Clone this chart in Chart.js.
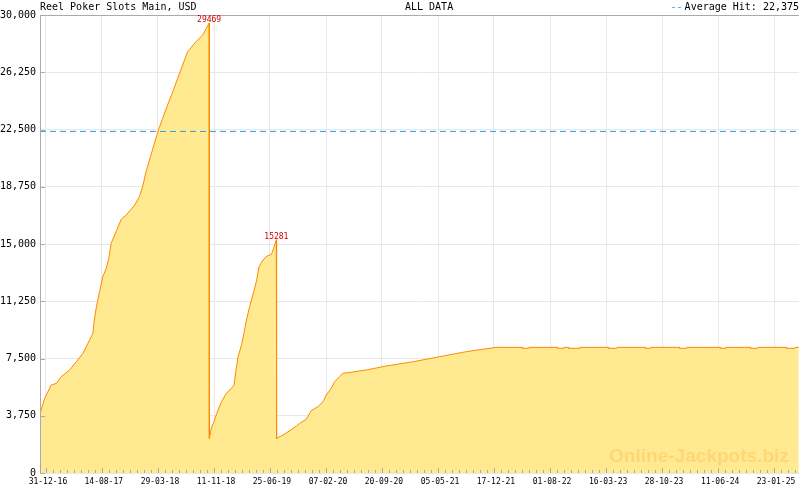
<!DOCTYPE html>
<html><head><meta charset="utf-8">
<script src="https://cdn.jsdelivr.net/npm/chart.js@4/dist/chart.umd.min.js"></script>
<style>html,body{margin:0;padding:0;background:#fff;}canvas{display:block}</style>
</head><body>
<canvas id="c" width="800" height="490"></canvas>
<script>
const chartTitle = 'Reel Poker Slots Main, USD';
const rangeLabel = 'ALL DATA';
const averageLabel = 'Average Hit: 22,375';
const averageHit = 22375;
const watermark = 'Online-Jackpots.biz';

const dates = [
'2016-12-07','2016-12-26','2017-01-21','2017-02-11','2017-03-03','2017-04-06','2017-05-03','2017-05-30',
'2017-06-19','2017-07-09','2017-07-13','2017-07-22','2017-08-05','2017-08-18','2017-09-01','2017-09-11',
'2017-09-21','2017-10-11','2017-11-01','2017-11-21','2017-12-25','2018-01-13','2018-01-26','2018-02-09',
'2018-02-27','2018-03-15','2018-03-31','2018-04-17','2018-05-07','2018-05-28','2018-06-17','2018-07-07',
'2018-07-27','2018-08-30','2018-09-26','2018-10-22',
'2018-10-23','2018-10-31','2018-11-13','2018-11-27','2018-12-11','2018-12-31','2019-01-20','2019-01-31',
'2019-02-07','2019-02-16','2019-03-02','2019-03-12','2019-03-22','2019-04-04','2019-04-17','2019-05-01',
'2019-05-12','2019-05-28','2019-06-13','2019-07-01','2019-07-10','2019-07-21',
'2019-07-22','2019-08-17','2019-09-13','2019-10-10','2019-10-23','2019-11-19','2019-12-09','2020-01-05',
'2020-01-26','2020-02-08','2020-02-28','2020-03-13','2020-04-02','2020-04-15','2020-05-19','2020-07-19',
'2020-10-08','2021-01-24','2021-05-12','2021-08-28','2021-12-27',
'2022-04-11','2022-04-12','2022-05-06','2022-05-07','2022-08-31','2022-09-01','2022-09-25','2022-09-26',
'2022-10-14','2022-10-15','2022-11-29','2022-11-30','2023-03-25','2023-03-26','2023-04-28','2023-04-29',
'2023-08-21','2023-08-22','2023-09-12','2023-09-13','2024-01-06','2024-01-07','2024-02-05','2024-02-06',
'2024-06-19','2024-06-20','2024-07-11','2024-07-12','2024-10-19','2024-10-20','2024-11-18','2024-11-19',
'2025-03-14','2025-03-15','2025-04-17','2025-04-18','2025-05-03'
];
const values = [
3900,4890,5760,5870,6310,6750,7290,7840,
8500,9150,9800,10790,11880,12860,13410,14060,
15050,15810,16640,16900,17550,18100,18750,19740,
20720,21600,22470,23230,24100,24970,25850,26720,
27600,28250,28690,29469,
2270,2930,3470,4130,4670,5220,5550,5760,
6640,7620,8380,9150,10020,10890,11660,12530,
13510,13950,14210,14320,14720,15281,
2270,2490,2770,3080,3250,3520,4080,4340,
4670,5110,5550,5980,6310,6530,6600,6750,
7010,7290,7620,7950,8230,
8230,8170,8170,8230,8230,8170,8170,8230,
8230,8170,8170,8230,8230,8170,8170,8230,
8230,8170,8170,8230,8230,8170,8170,8230,
8230,8170,8170,8230,8230,8170,8170,8230,
8230,8170,8170,8230,8230
];
const tickLabels = ['31-12-16','14-08-17','29-03-18','11-11-18','25-06-19','07-02-20','20-09-20',
'05-05-21','17-12-21','01-08-22','16-03-23','28-10-23','11-06-24','23-01-25'];
const xStart = '2016-12-07';
const xEnd = '2025-05-04';
const yMax = 30000;
const yStep = 3750;

const dayOf = s => { const p = s.split('-').map(Number); return Date.UTC(p[0], p[1]-1, p[2]) / 864e5; };
const tickDay = s => { const p = s.split('-').map(Number); return Date.UTC(2000+p[2], p[1]-1, p[0]) / 864e5; };
const tickDays = tickLabels.map(tickDay);
const points = dates.map((d,i)=>({x: dayOf(d), y: values[i]}));
const xMin = dayOf(xStart), xMax = dayOf(xEnd);

const MONO = '"DejaVu Sans Mono", monospace';

const deco = {
  id: 'deco',
  afterDatasetsDraw(chart) {
    const {ctx, chartArea: a, scales: {x, y}} = chart;
    ctx.save();
    // watermark
    ctx.font = 'bold 18px "Liberation Sans", Arial, sans-serif';
    const w = ctx.measureText(watermark).width;
    const fs = 18 * 180 / w;
    ctx.font = 'bold ' + fs.toFixed(2) + 'px "Liberation Sans", Arial, sans-serif';
    ctx.fillStyle = 'rgba(255,170,50,0.30)';
    ctx.textAlign = 'left'; ctx.textBaseline = 'alphabetic';
    ctx.fillText(watermark, 609, 462);

    ctx.strokeStyle = '#aaaaaa'; ctx.lineWidth = 1;
    ctx.beginPath();
    ctx.moveTo(a.left, a.top + 0.5); ctx.lineTo(a.right, a.top + 0.5);
    ctx.moveTo(a.left + 0.5, a.top); ctx.lineTo(a.left + 0.5, a.bottom + 1);
    ctx.stroke();
    // y ticks (inside)
    ctx.beginPath();
    for (let v = 0; v <= yMax; v += yStep) {
      const py = Math.round(y.getPixelForValue(v)) + 0.5;
      ctx.moveTo(a.left, py); ctx.lineTo(a.left + 5, py);
    }
    // x ticks major + minor (inside, from bottom)
    for (let i = 0; i < tickDays.length; i++) {
      const d0 = tickDays[i];
      const step = (i < tickDays.length - 1 ? tickDays[i+1] - d0 : tickDays[i] - tickDays[i-1]) / 8;
      const px = Math.round(x.getPixelForValue(d0)) + 0.5;
      ctx.moveTo(px, a.bottom); ctx.lineTo(px, a.bottom - 5);
      for (let k = 1; k < 8; k++) {
        const dd = d0 + k * step;
        if (dd > xMax) break;
        const mx = Math.round(x.getPixelForValue(dd)) + 0.5;
        ctx.moveTo(mx, a.bottom); ctx.lineTo(mx, a.bottom - 3);
      }
      if (i === 0) {
        for (let k = 1; k < 8; k++) {
          const dd = d0 - k * step;
          if (dd < xMin) break;
          const mx = Math.round(x.getPixelForValue(dd)) + 0.5;
          ctx.moveTo(mx, a.bottom); ctx.lineTo(mx, a.bottom - 3);
        }
      }
    }
    ctx.stroke();

    // peak labels
    ctx.font = '8px ' + MONO;
    ctx.fillStyle = '#cc0000';
    ctx.textAlign = 'center'; ctx.textBaseline = 'bottom';
    for (let i = 0; i < values.length - 1; i++) {
      if (values[i+1] < values[i] - 5000) {
        const px = x.getPixelForValue(points[i].x);
        const py = y.getPixelForValue(values[i]);
        ctx.fillText(String(values[i]), px, py + 1);
      }
    }

    // header texts
    ctx.font = '10px ' + MONO;
    ctx.fillStyle = '#000';
    ctx.textBaseline = 'alphabetic';
    ctx.textAlign = 'left';
    ctx.fillText(chartTitle, 40, 10);
    ctx.fillText(rangeLabel, 405, 10);
    ctx.textAlign = 'right';
    ctx.fillText(averageLabel, 799, 10);
    const aw = ctx.measureText(averageLabel).width;
    ctx.fillStyle = '#3399dd';
    ctx.fillText('--', 799 - aw - 2, 10);
    ctx.restore();
  }
};

new Chart(document.getElementById('c'), {
  type: 'line',
  data: {
    datasets: [
      {
        label: 'Average Hit',
        data: [{x: xMin, y: averageHit}, {x: xMax, y: averageHit}],
        borderColor: '#3399dd', borderWidth: 1, borderDash: [6, 4],
        pointRadius: 0, fill: false
      },
      {
        label: chartTitle,
        data: points,
        borderColor: '#ff8800', borderWidth: 1,
        backgroundColor: '#ffea92',
        pointRadius: 0, fill: 'origin', tension: 0
      }
    ]
  },
  options: {
    responsive: false, animation: false, devicePixelRatio: 1,
    layout: {padding: {top: 15, right: 1, left: 0, bottom: 0}},
    plugins: {legend: {display: false}, tooltip: {enabled: false}, title: {display: false}},
    scales: {
      x: {
        type: 'linear', min: xMin, max: xMax,
        afterFit: s => { s.height = 17; },
        afterBuildTicks: s => { s.ticks = tickDays.map(v => ({value: v})); },
        grid: {color: '#e8e8e8', drawTicks: false},
        border: {display: false},
        ticks: {
          font: {family: MONO, size: 8}, color: '#000', padding: 4, labelOffset: 2,
          maxRotation: 0, autoSkip: false,
          callback: (v, i) => tickLabels[i]
        }
      },
      y: {
        type: 'linear', min: 0, max: yMax,
        afterFit: s => { s.width = 40; },
        grid: {color: '#e8e8e8', drawTicks: false},
        border: {display: false},
        ticks: {
          stepSize: yStep, font: {family: MONO, size: 10}, color: '#000', padding: 4,
          callback: v => v.toLocaleString('en-US')
        }
      }
    }
  },
  plugins: [deco]
});
</script>
</body></html>
